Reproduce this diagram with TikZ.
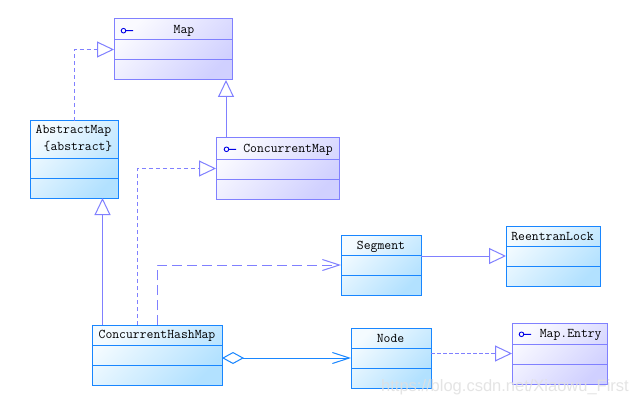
\documentclass[tikz,border=0pt]{standalone}
\usepackage{fontspec}
\newfontfamily\wmfont{Liberation Sans}
\usetikzlibrary{arrows.meta,calc}
\definecolor{lavline}{RGB}{128,128,255}
\definecolor{lavfill}{RGB}{208,208,255}
\definecolor{lavtop}{RGB}{250,250,255}
\definecolor{skyline}{RGB}{24,134,255}
\definecolor{skyfill}{RGB}{178,225,255}
\definecolor{skytop}{RGB}{244,251,255}
\definecolor{iconblue}{RGB}{0,0,230}
\newcommand\umlrow[3]{\draw[#3,line width=1pt] ([yshift=-#2pt]#1.north west) -- ([yshift=-#2pt]#1.north east);}
\newcommand\ifaceicon[2]{\draw[iconblue,line width=0.9pt] (#1,#2) circle (2.3) (#1+2.3,#2) -- (#1+9.5,#2);}
\begin{document}
\begin{tikzpicture}[x=1pt,y=-1pt,
  lavbox/.style={draw=lavline,line width=1pt,shading=axis,top color=lavtop,bottom color=lavfill,shading angle=45,anchor=north west,inner sep=0pt,outer sep=0pt},
  skybox/.style={draw=skyline,line width=1pt,shading=axis,top color=skytop,bottom color=skyfill,shading angle=45,anchor=north west,inner sep=0pt,outer sep=0pt},
  txt/.style={font=\ttfamily\fontsize{13.33}{16}\selectfont,inner sep=0pt,anchor=base},
  lavconn/.style={draw=lavline,line width=1pt},
  realize/.style={-{Triangle[open,length=17pt,width=16pt]}},
  depend/.style={-{Straight Barb[length=17pt,width=11pt]}}
]
\useasboundingbox (0,0) rectangle (630,404);
\fill[white] (0,0) rectangle (630,404);

% classes
\node[lavbox,minimum width=118pt,minimum height=61pt] (map) at (114,19) {};
\node[skybox,minimum width=88pt,minimum height=77pt] (abs) at (30,121) {};
\node[lavbox,minimum width=123pt,minimum height=61pt] (cmap) at (216,138) {};
\node[skybox,minimum width=80pt,minimum height=60pt] (seg) at (341,235) {};
\node[skybox,minimum width=94pt,minimum height=60pt] (lock) at (506,226) {};
\node[skybox,minimum width=130pt,minimum height=60pt] (chm) at (92,325) {};
\node[skybox,minimum width=80pt,minimum height=60pt] (nd) at (351,328) {};
\node[lavbox,minimum width=95pt,minimum height=61pt] (entry) at (512,323) {};

\umlrow{map}{21}{lavline}\umlrow{map}{41}{lavline}
\umlrow{abs}{37}{skyline}\umlrow{abs}{57}{skyline}
\umlrow{cmap}{21}{lavline}\umlrow{cmap}{41}{lavline}
\umlrow{seg}{20}{skyline}\umlrow{seg}{40}{skyline}
\umlrow{lock}{20.5}{skyline}\umlrow{lock}{40.5}{skyline}
\umlrow{chm}{20.5}{skyline}\umlrow{chm}{40.5}{skyline}
\umlrow{nd}{20}{skyline}\umlrow{nd}{40}{skyline}
\umlrow{entry}{21}{lavline}\umlrow{entry}{41}{lavline}

% names
\node[txt] (mapt) at (184,33.5) {Map};
\node[txt,anchor=base west] (abst1) at (35.5,133.7) {AbstractMap};
\node[txt,anchor=base west] (abst2) at (43.5,150.7) {\{abstract\}};
\node[txt] (cmapt) at (288,152.7) {ConcurrentMap};
\node[txt] (segt) at (381,249.3) {Segment};
\node[txt] (lockt) at (552.5,240.3) {ReentranLock};
\node[txt] (chmt) at (157,338.3) {ConcurrentHashMap};
\node[txt] (ndt) at (390.5,342) {Node};
\node[txt] (entryt) at (570.7,337.3) {Map.Entry};

\ifaceicon{123.5}{30.7}
\ifaceicon{226.5}{149.3}
\ifaceicon{521.5}{334.3}

% connectors
\draw[lavconn,realize,dash pattern=on 4pt off 3pt] (abs.north) |- (map.west);
\coordinate (cmapup) at ([xshift=10pt]cmap.north west);
\draw[lavconn,realize] (cmapup) -- (cmapup |- map.south);
\coordinate (chmup) at ([xshift=10.5pt]chm.north west);
\draw[lavconn,realize] (chmup) -- (chmup |- abs.south);
\coordinate (chmup2) at ([xshift=45.3pt]chm.north west);
\draw[lavconn,realize,dash pattern=on 4pt off 3pt] (chmup2) |- (cmap.west);
\draw[lavconn,depend,dash pattern=on 10pt off 5pt] (chm.north) |- (seg.west);
\draw[lavconn,realize] (seg.east |- lock.west) -- (lock.west);
\draw[draw=skyline,line width=1pt,{Diamond[open,length=22pt,width=12pt]}-{Straight Barb[length=17pt,width=11pt]}] (chm.east |- nd.west) -- (nd.west);
\draw[lavconn,realize,dash pattern=on 4pt off 2pt] (nd.east |- entry.west) -- (entry.west);

% watermark
\node[font=\wmfont\fontsize{16.5}{18}\selectfont,text=black!12,opacity=0.85,inner sep=0pt,anchor=base west] (wm) at (381,391) {https://blog.csdn.net/Xiaowu\_First};
\end{tikzpicture}
\end{document}
